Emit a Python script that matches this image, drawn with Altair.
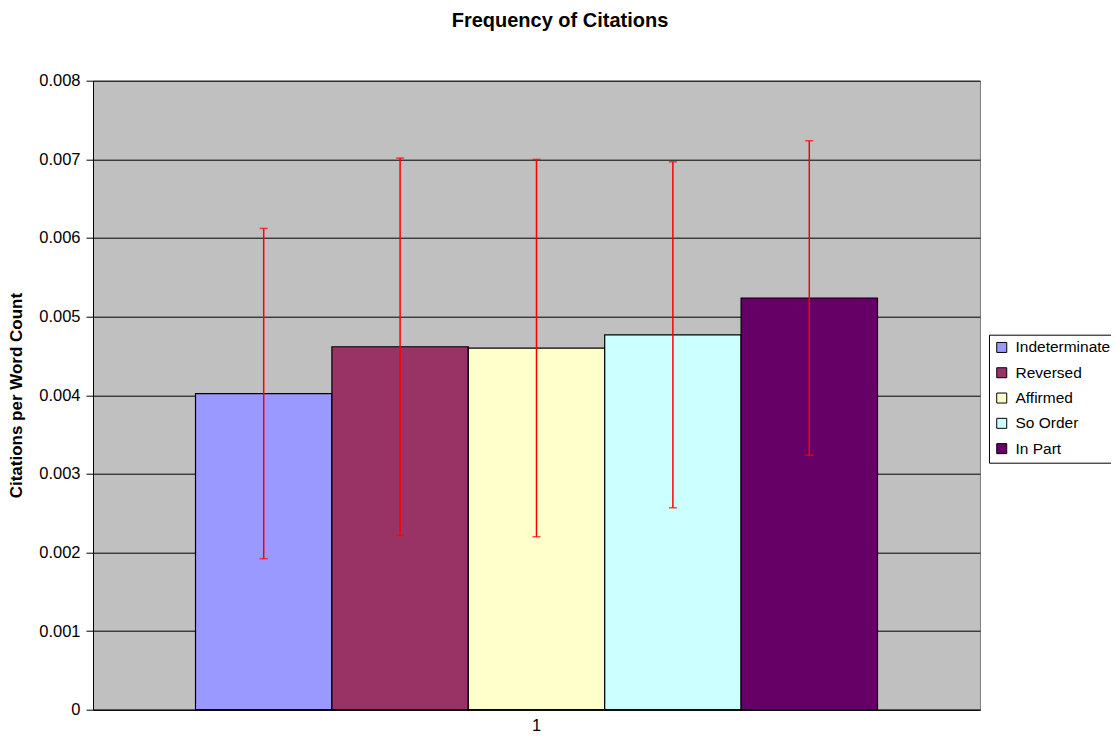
import altair as alt
import pandas as pd

categories = ["Indeterminate", "Reversed", "Affirmed", "So Order", "In Part"]
values = [0.004021, 0.004616, 0.004599, 0.004768, 0.005236]
errors = [0.0021, 0.0024, 0.0024, 0.0022, 0.0020]
colors = ["#9999FF", "#993366", "#FFFFCC", "#CCFFFF", "#660066"]
group_label = ["1"] * len(categories)
y_ticks = [0, 0.001, 0.002, 0.003, 0.004, 0.005, 0.006, 0.007, 0.008]

df = pd.DataFrame({
    "group": group_label,
    "category": categories,
    "value": values,
    "err": errors,
})

FONT = "Liberation Sans"

x_enc = alt.X(
    "group:N",
    title=None,
    scale=alt.Scale(paddingInner=0, paddingOuter=0.1503),
    axis=alt.Axis(
        labelAngle=0, ticks=False, labelPadding=8, labelFontSize=16.5,
        labelFont=FONT, labelColor="black", domainColor="black",
        domainWidth=1, grid=False,
    ),
)
xoff = alt.XOffset(
    "category:N",
    sort=categories,
    scale=alt.Scale(domain=categories, paddingInner=0, paddingOuter=0),
)
y_scale = alt.Scale(domain=[0, 0.008], nice=False, zero=True)

base = alt.Chart(df).transform_calculate(
    lo="datum.value - datum.err", hi="datum.value + datum.err"
)

bars = base.mark_bar(stroke="black", strokeWidth=1.2).encode(
    x=x_enc,
    xOffset=xoff,
    y=alt.Y(
        "value:Q",
        scale=y_scale,
        title="Citations per Word Count",
        axis=alt.Axis(
            values=y_ticks, format="~g", grid=True, gridColor="black",
            gridWidth=1, tickSize=7, tickColor="black", domainColor="black",
            labelPadding=6, labelFontSize=16.5, labelFont=FONT,
            labelColor="black", titleFont=FONT, titleFontSize=17,
            titleFontWeight="bold", titleColor="black", titleAngle=270,
            titleX=-77, titleY=314.4, titleAlign="center",
            titleBaseline="middle",
        ),
    ),
    fill=alt.Fill(
        "category:N",
        sort=categories,
        scale=alt.Scale(domain=categories, range=colors),
        legend=alt.Legend(
            title=None, orient="none", legendX=896, legendY=254,
            symbolType="square", symbolSize=100, symbolStrokeColor="black",
            symbolStrokeWidth=1, labelFontSize=15.5, labelFont=FONT,
            labelColor="black", rowPadding=8.3, labelOffset=6, padding=5,
            strokeColor="black", fillColor="white", labelLimit=300,
        ),
    ),
)

rules = base.mark_rule(color="#FF0000", strokeWidth=1.5).encode(
    x=x_enc, xOffset=xoff,
    y=alt.Y("lo:Q", scale=y_scale), y2="hi:Q",
)
caps_lo = base.mark_tick(color="#FF0000", size=8, thickness=1.5).encode(
    x=x_enc, xOffset=xoff, y=alt.Y("lo:Q", scale=y_scale),
)
caps_hi = base.mark_tick(color="#FF0000", size=8, thickness=1.5).encode(
    x=x_enc, xOffset=xoff, y=alt.Y("hi:Q", scale=y_scale),
)

chart = alt.layer(bars, rules, caps_lo, caps_hi).properties(
    width=887,
    height=629,
    background="white",
    title=alt.Title(
        "Frequency of Citations", font=FONT, fontSize=20, fontWeight="bold",
        color="black", anchor="middle", frame="group", dx=23.5, offset=26,
        baseline="alphabetic",
    ),
    autosize=alt.AutoSizeParams(type="none"),
    padding={"left": 85, "top": 72.7, "right": 131, "bottom": 24},
).configure_view(
    fill="#C0C0C0", stroke="#808080", strokeWidth=1
)

chart.save("out.html", embed_options={"renderer": "svg", "actions": False})
